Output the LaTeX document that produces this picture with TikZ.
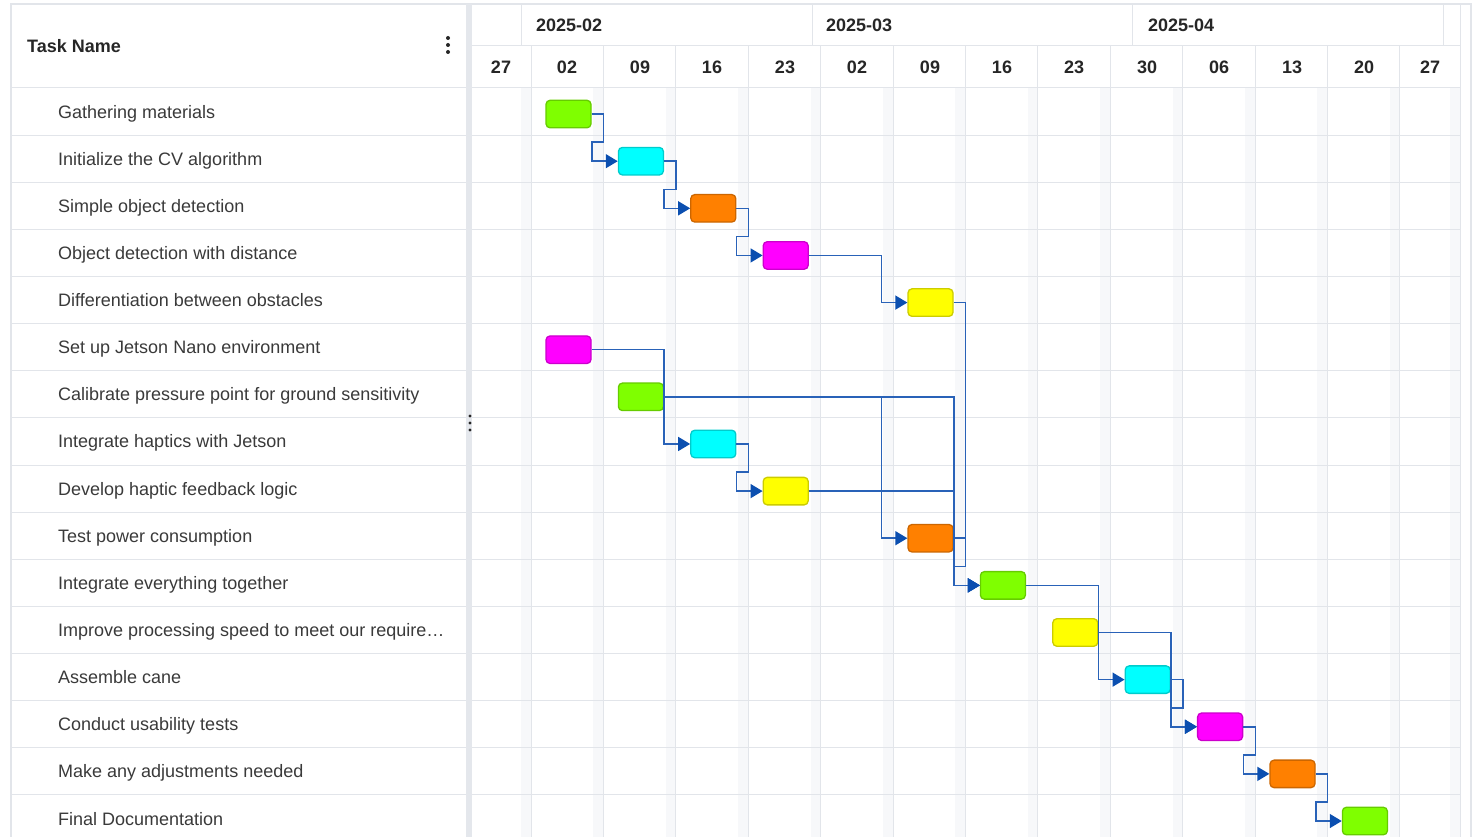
\documentclass[tikz,border=0pt]{standalone}
\usepackage{fontspec}
\setmainfont{Liberation Sans}
\usetikzlibrary{calc,arrows.meta}

\definecolor{gridline}{HTML}{E2E5EA}
\definecolor{band}{HTML}{F7F8FA}
\definecolor{sepbar}{HTML}{E4E7EC}
\definecolor{taskgray}{HTML}{3A3A3A}
\definecolor{headgray}{HTML}{262626}
\definecolor{deplink}{HTML}{2962B8}
\definecolor{deptip}{HTML}{0B4FB0}
\definecolor{bargreen}{HTML}{7FFF00}
\definecolor{barcyan}{HTML}{00FFFF}
\definecolor{barorange}{HTML}{FF8000}
\definecolor{barmagenta}{HTML}{FF00FF}
\definecolor{baryellow}{HTML}{FFFF00}

\tikzset{
  grid/.style={draw=gridline, line width=1pt},
  bar/.style={rounded corners=4pt, minimum width=45pt, minimum height=27.5pt, inner sep=0pt, line width=1.3pt},
  dep/.style={draw=deplink, line width=1.5pt, -{Triangle[length=12pt,width=14pt,color=deptip]}},
  taskname/.style={anchor=base west, inner sep=0pt, text=taskgray, font=\fontsize{18}{21}\selectfont},
  headtxt/.style={anchor=base, inner sep=0pt, text=headgray, font=\fontsize{18}{21}\selectfont\bfseries},
}

% finish-to-start links
\newcommand{\linkwrap}[2]{\draw[dep] (#1.east) -- ++(12,0) |- ($(#2.west)+(-26,-19)$) |- (#2.west);}
\newcommand{\linkdirect}[2]{\draw[dep] (#1.east) -| ($(#2.west)+(-26,0)$) -- (#2.west);}

\begin{document}
\begin{tikzpicture}[x=1pt,y=-1pt]
  \pgfmathsetmacro{\rowh}{47.13}
  \pgfmathsetmacro{\colw}{72.4}
  \useasboundingbox (0,0) rectangle (1484,837);
  \fill[white] (0,0) rectangle (1484,837);

  % week columns
  \foreach \k in {0,...,12} {
    \pgfmathsetmacro{\gx}{531+\colw*\k}
    \fill[band] (\gx-10,88) rectangle (\gx,837);
    \draw[grid] (\gx,46) -- (\gx,837);
  }
  \fill[band] (1450,88) rectangle (1460,837);

  % rows
  \foreach \k in {0,...,15}
    \draw[grid] (11,88+\rowh*\k) -- (466,88+\rowh*\k) (472,88+\rowh*\k) -- (1460,88+\rowh*\k);

  % frame and header
  \draw[grid, line width=1.5pt] (11,837) -- (11,4) -- (1471,4) -- (1471,837);
  \draw[grid] (1460,4) -- (1460,837);
  \draw[grid] (472,46) -- (1460,46);
  \foreach \mx in {521,812,1132,1443}
    \draw[grid] (\mx,4) -- (\mx,46);
  \fill[sepbar] (466,4) rectangle (472,837);

  \node[headtxt, anchor=base west] (head) at (27,52.5) {Task Name};
  \foreach \dy in {38,45,52} \fill[headgray] (448,\dy) circle (2);
  \foreach \dy in {416,423,430} \fill[headgray] (470,\dy) circle (1.6);

  \node[headtxt, anchor=base west] (m1) at (536,31.5) {2025-02};
  \node[headtxt, anchor=base west] (m2) at (826,31.5) {2025-03};
  \node[headtxt, anchor=base west] (m3) at (1148,31.5) {2025-04};

  \foreach \dx/\d [count=\k] in {501/27, 567/02, 640/09, 712/16, 785/23, 857/02, 930/09,
      1002/16, 1074/23, 1147/30, 1219/06, 1292/13, 1364/20, 1430/27}
    \node[headtxt] (d\k) at (\dx,73.5) {\d};

  % task names
  \foreach \name [count=\r] in {Gathering materials, Initialize the CV algorithm,
      Simple object detection, Object detection with distance,
      Differentiation between obstacles, Set up Jetson Nano environment,
      Calibrate pressure point for ground sensitivity, Integrate haptics with Jetson,
      Develop haptic feedback logic, Test power consumption,
      Integrate everything together, Improve processing speed to meet our require…,
      Assemble cane, Conduct usability tests, Make any adjustments needed,
      Final Documentation}
    \node[taskname] (t\r) at (58,88+\rowh*\r-\rowh/2+6.5) {\name};

  % bars
  \foreach \r/\c/\col in {1/0/green, 2/1/cyan, 3/2/orange, 4/3/magenta, 5/5/yellow,
      6/0/magenta, 7/1/green, 8/2/cyan, 9/3/yellow, 10/5/orange, 11/6/green,
      12/7/yellow, 13/8/cyan, 14/9/magenta, 15/10/orange, 16/11/green}
    \node[bar, fill=bar\col, draw=bar\col!80!black] (b\r) at (531+\colw*\c+37.5, 88+\rowh*\r-\rowh/2+2.5) {};

  % dependencies
  \linkwrap{b1}{b2}
  \linkwrap{b2}{b3}
  \linkwrap{b3}{b4}
  \linkdirect{b4}{b5}
  \linkwrap{b5}{b11}
  \linkdirect{b6}{b8}
  \linkdirect{b7}{b10}
  \linkdirect{b7}{b11}
  \linkwrap{b8}{b9}
  \linkdirect{b9}{b11}
  \linkwrap{b10}{b11}
  \linkdirect{b11}{b13}
  \linkdirect{b12}{b14}
  \linkwrap{b13}{b14}
  \linkwrap{b14}{b15}
  \linkwrap{b15}{b16}
\end{tikzpicture}
\end{document}
